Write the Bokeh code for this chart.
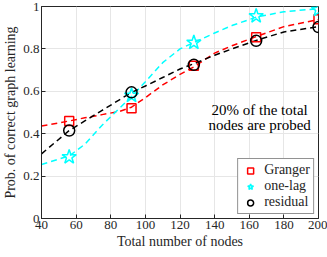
from bokeh.plotting import figure
from bokeh.models import FixedTicker, Range1d, Label, Legend, LegendItem
from bokeh.embed import file_html
from bokeh.resources import INLINE

# data
nodes = [56, 92, 128, 164, 200]
granger = [0.46, 0.52, 0.72, 0.855, 0.94]
one_lag = [0.29, 0.58, 0.83, 0.955, 0.985]
residual = [0.415, 0.595, 0.725, 0.838, 0.903]

# fitted trend curves
fit_x = [40, 56, 65, 75, 85, 92, 100, 110, 120, 128, 140, 150, 164, 180, 200]
fit_granger = [0.436, 0.46, 0.475, 0.49, 0.505, 0.525, 0.57, 0.63, 0.68, 0.715, 0.78, 0.815, 0.858, 0.905, 0.938]
fit_one_lag = [0.255, 0.295, 0.35, 0.44, 0.52, 0.575, 0.645, 0.735, 0.80, 0.83, 0.875, 0.91, 0.95, 0.975, 0.99]
fit_residual = [0.305, 0.415, 0.46, 0.51, 0.56, 0.595, 0.625, 0.665, 0.705, 0.73, 0.77, 0.80, 0.84, 0.88, 0.905]

x_ticks = [40, 60, 80, 100, 120, 140, 160, 180, 200]
y_ticks = [0, 0.2, 0.4, 0.6, 0.8, 1]
y_tick_labels = ["0", "0.2", "0.4", "0.6", "0.8", "1"]

FONT = "'Liberation Serif', serif"
AX = "#262626"

p = figure(frame_width=277, frame_height=212, output_backend="svg", toolbar_location=None,
           x_range=Range1d(40, 200), y_range=Range1d(0, 1),
           min_border_left=0, min_border_right=9, min_border_top=6, min_border_bottom=0)

p.outline_line_color = AX
p.outline_line_width = 1
for ax in (p.xaxis[0], p.yaxis[0]):
    ax.axis_line_color = AX
    ax.major_tick_line_color = AX
    ax.major_tick_in = 4
    ax.major_tick_out = 0
    ax.minor_tick_line_color = None
    ax.major_label_text_font = FONT
    ax.major_label_text_font_size = "13px"
    ax.major_label_text_color = AX
    ax.axis_label_text_font = FONT
    ax.axis_label_text_font_size = "14px"
    ax.axis_label_text_font_style = "normal"
    ax.axis_label_text_color = AX
    ax.major_label_standoff = 2
    ax.axis_label_standoff = 2

p.xaxis.ticker = FixedTicker(ticks=x_ticks)
p.yaxis.ticker = FixedTicker(ticks=y_ticks)
p.yaxis.major_label_overrides = {t: l for t, l in zip(y_ticks, y_tick_labels)}
p.xaxis.axis_label = "Total number of nodes"
p.yaxis.axis_label = "Prob. of correct graph learning"

p.xgrid.ticker = FixedTicker(ticks=x_ticks)
p.ygrid.ticker = FixedTicker(ticks=y_ticks)
p.grid.grid_line_color = "#e6e6e6"
p.grid.grid_line_width = 1

lw = 1.5
dash = "6 4"
p.line(fit_x, fit_granger, line_color="#ff0000", line_width=lw, line_dash=dash)
p.line(fit_x, fit_one_lag, line_color="#00ffff", line_width=lw, line_dash=dash)
p.line(fit_x, fit_residual, line_color="black", line_width=lw, line_dash=dash)

r_g = p.scatter(nodes, granger, marker="square", size=9, fill_color=None,
                line_color="#ff0000", line_width=1.5)
r_o = p.scatter(nodes, one_lag, marker="star", size=15, fill_color=None,
                line_color="#00ffff", line_width=1.5)
r_r = p.scatter(nodes, residual, marker="circle", size=11, fill_color=None,
                line_color="black", line_width=1.5)

p.add_layout(Label(x=166, y=0.514, text="20% of the total", text_align="center",
                   text_baseline="middle", text_font=FONT, text_font_size="15px",
                   text_color="black"))
p.add_layout(Label(x=166, y=0.44, text="nodes are probed", text_align="center",
                   text_baseline="middle", text_font=FONT, text_font_size="15px",
                   text_color="black"))

legend = Legend(items=[LegendItem(label="Granger", renderers=[r_g]),
                       LegendItem(label="one-lag", renderers=[r_o]),
                       LegendItem(label="residual", renderers=[r_r])],
                location="bottom_right")
legend.label_text_font = FONT
legend.label_text_font_size = "14px"
legend.label_text_color = AX
legend.border_line_color = AX
legend.border_line_width = 1
legend.background_fill_alpha = 1
legend.spacing = 0
legend.padding = 3
legend.margin = 4
legend.label_standoff = 5
legend.glyph_width = 18
legend.glyph_height = 15
legend.label_height = 15
p.add_layout(legend)

with open("out.html", "w") as f:
    f.write(file_html(p, INLINE))
